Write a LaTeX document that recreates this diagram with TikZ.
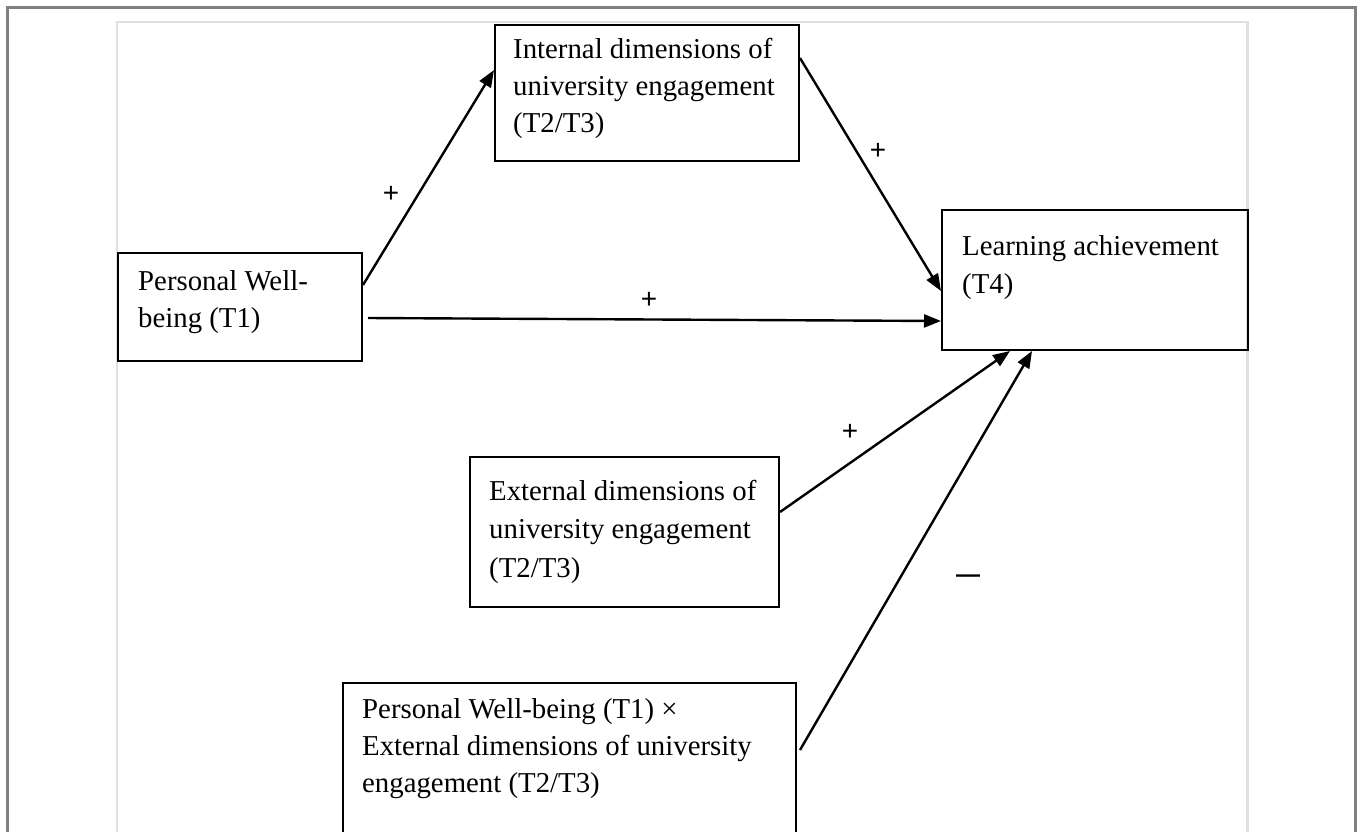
\documentclass[tikz,border=0pt]{standalone}
\usepackage{fontspec}
\setmainfont{Liberation Serif}
\newfontfamily\signfont{Liberation Sans}
\usetikzlibrary{arrows.meta}
\definecolor{framegray}{RGB}{128,128,128}
\definecolor{innergray}{RGB}{222,222,228}
\begin{document}
\begin{tikzpicture}[x=1pt,y=-1pt,
  box/.style={draw=black, line width=2pt, inner sep=0pt, anchor=north west},
  txt/.style={anchor=base west, inner sep=0pt, font=\fontsize{28.8}{37}\selectfont},
  conn/.style={line width=2.4pt, -{Triangle[length=17pt,width=13pt]}},
  sign/.style={font=\signfont\fontsize{28}{28}\selectfont, inner sep=0pt}]
\useasboundingbox (0,0) rectangle (1357,831);
\clip (0,0) rectangle (1357,831);
% frames
\draw[framegray, line width=2.5pt] (7.5,900) -- (7.5,7.5) -- (1355.5,7.5) -- (1355.5,900);
\draw[innergray, line width=2.5pt] (117,900) -- (117,22) -- (1247.5,22) -- (1247.5,900);
% boxes
\node[box, minimum width=304pt, minimum height=136pt] (int) at (494,24) {};
\node[box, minimum width=244pt, minimum height=108pt] (pwb) at (117,252) {};
\node[box, minimum width=306pt, minimum height=140pt] (learn) at (941,209) {};
\node[box, minimum width=309pt, minimum height=150pt] (ext) at (469,456) {};
\node[box, minimum width=453pt, minimum height=200pt] (inter) at (342,682) {};
% texts
\node[txt] (int1) at (513,58) {Internal dimensions of};
\node[txt] (int2) at (513,95) {university engagement};
\node[txt] (int3) at (513,132) {(T2/T3)};
\node[txt] (pwb1) at (138,290) {Personal Well-};
\node[txt] (pwb2) at (138,327) {being (T1)};
\node[txt] (learn1) at (962,255) {Learning achievement};
\node[txt] (learn2) at (962,293) {(T4)};
\node[txt] (ext1) at (489,500) {External dimensions of};
\node[txt] (ext2) at (489,538) {university engagement};
\node[txt] (ext3) at (489,577) {(T2/T3)};
\node[txt] (inter1) at (362,718) {Personal Well-being (T1) ×};
\node[txt] (inter2) at (362,755) {External dimensions of university};
\node[txt] (inter3) at (362,792) {engagement (T2/T3)};
% connectors
\draw[conn] ([yshift=-33pt]pwb.north east) -- ([yshift=-46pt]int.north west);
\draw[conn] ([xshift=5pt,yshift=-66pt]pwb.north east) -- ([yshift=-112pt]learn.north west);
\draw[conn] ([yshift=-34pt]int.north east) -- ([yshift=-82pt]learn.north west);
\draw[conn] ([yshift=-56pt]ext.north east) -- ([xshift=69pt]learn.south west);
\draw[conn] ([xshift=3pt,yshift=-68pt]inter.north east) -- ([xshift=91pt]learn.south west);
% signs
\node[sign] (s1) at (391,194) {+};
\node[sign] (s2) at (649,300) {+};
\node[sign] (s3) at (878,151) {+};
\node[sign] (s4) at (850,432) {+};
\node[sign, font=\signfont\bfseries\fontsize{24}{24}\selectfont] (s5) at (968,579) {—};
\end{tikzpicture}
\end{document}
